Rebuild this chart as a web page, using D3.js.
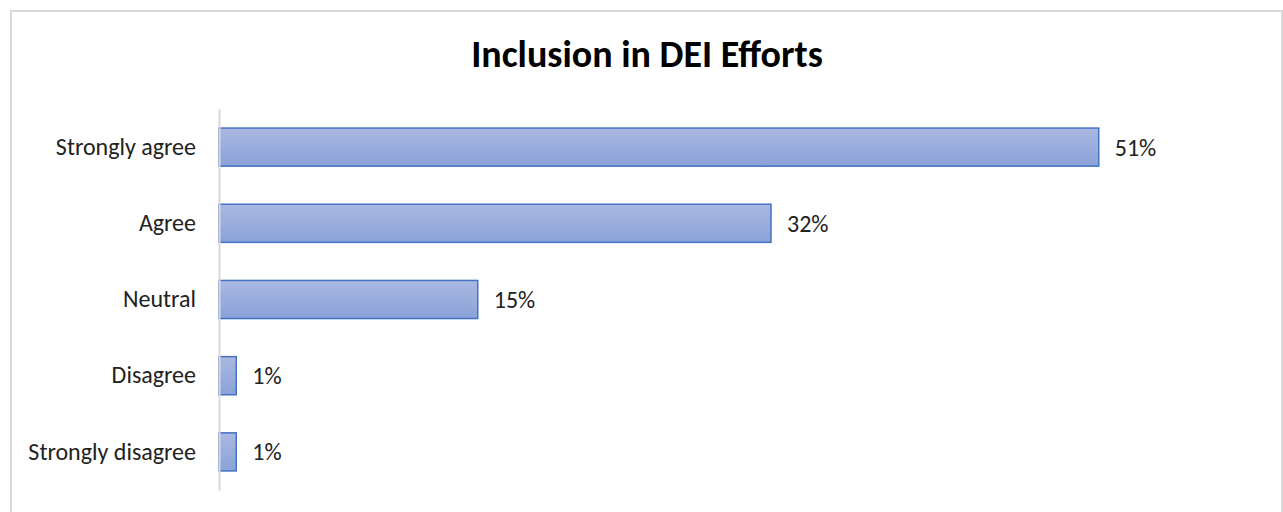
<!DOCTYPE html>
<html>
<head>
<meta charset="utf-8">
<script src="https://cdn.jsdelivr.net/npm/d3@7"></script>
<style>
  body { margin: 0; background: #fff; }
  text { font-family: Carlito, Calibri, "Open Sans", sans-serif; }
</style>
</head>
<body>
<div class="chart"></div>
<script>
const categories = ["Strongly agree", "Agree", "Neutral", "Disagree", "Strongly disagree"];
const values = [51, 32, 15, 1, 1];
const title = "Inclusion in DEI Efforts";

const W = 1283, H = 512;
const margin = ({top: 109, right: 29, bottom: 22, left: 219});
const width = W - margin.left - margin.right,
      height = H - margin.top - margin.bottom;

const svg = d3.select(".chart").append("svg")
    .attr("width", W)
    .attr("height", H);

// outer chart frame (no bottom edge visible)
svg.append("path")
    .attr("d", "M11,512 V11 H1282 V512")
    .attr("fill", "none")
    .attr("stroke", "#d9d9d9")
    .attr("stroke-width", 2);

const defs = svg.append("defs");
const grad = defs.append("linearGradient")
    .attr("id", "barGrad")
    .attr("x1", 0).attr("y1", 0).attr("x2", 0).attr("y2", 1);
grad.append("stop").attr("offset", "0%").attr("stop-color", "#aab8e2");
grad.append("stop").attr("offset", "100%").attr("stop-color", "#8aa2d8");

svg.append("text")
    .attr("x", 647)
    .attr("y", 67)
    .attr("text-anchor", "middle")
    .attr("font-size", 38)
    .attr("font-weight", "bold")
    .attr("fill", "#000")
    .text(title);

const g = svg.append("g")
    .attr("transform", "translate(" + margin.left + "," + margin.top + ")");

const x = d3.scaleLinear()
    .domain([0, 60])
    .range([0, width]);

const y = d3.scaleBand()
    .domain(categories)
    .range([0, height])
    .paddingInner(0.5)
    .paddingOuter(0.25);

g.selectAll("rect.bar")
    .data(values)
    .enter()
    .append("rect")
    .attr("class", "bar")
    .attr("x", 0)
    .attr("y", (d, i) => y(categories[i]))
    .attr("width", d => x(d))
    .attr("height", y.bandwidth())
    .attr("fill", "url(#barGrad)")
    .attr("stroke", "#4472c4")
    .attr("stroke-width", 1.5);

g.selectAll("text.val")
    .data(values)
    .enter()
    .append("text")
    .attr("class", "val")
    .attr("x", d => x(d) + 16)
    .attr("y", (d, i) => y(categories[i]) + y.bandwidth() / 2)
    .attr("dy", "0.35em")
    .attr("font-size", 24)
    .attr("fill", "#222")
    .text(d => d + "%");

const yAxis = d3.axisLeft(y).tickSize(0).tickPadding(23);
const ax = g.append("g").attr("class", "axis y-axis").call(yAxis);
ax.select(".domain").attr("stroke", "#d9d9d9").attr("stroke-width", 2);
ax.selectAll("text")
    .attr("font-size", 24)
    .attr("fill", "#222")
    .style("font-family", "Carlito, Calibri, 'Open Sans', sans-serif");
</script>
</body>
</html>
